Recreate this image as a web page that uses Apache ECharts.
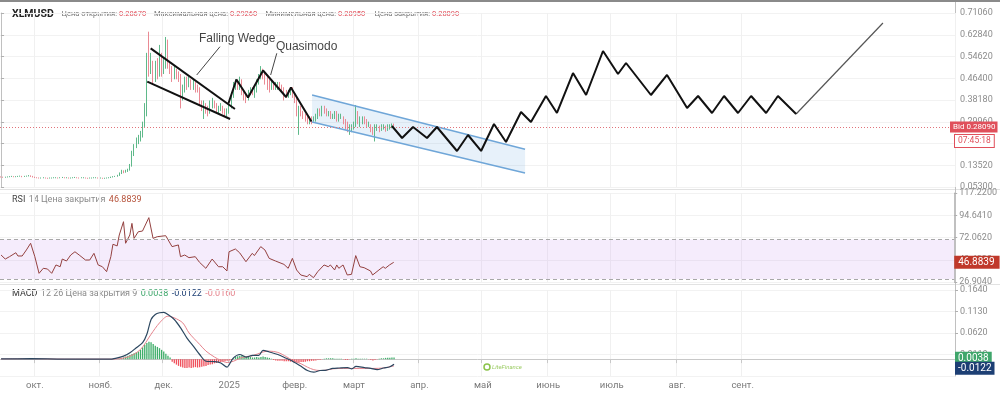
<!DOCTYPE html>
<html><head><meta charset="utf-8">
<script src="https://cdn.jsdelivr.net/npm/echarts/dist/echarts.min.js"></script>
<style>html,body{margin:0;padding:0;background:#fff}#c{width:1000px;height:394px}</style>
</head><body><div id="c"></div>
<script>
// ---------- DATA ----------
const startDate = '2024-09-15';          // index 0 of the daily categories
const dayCount = 452;
const lastLabelDate = '2025-09-01';
const monthNames = ['янв.','февр.','март','апр.','май','июнь','июль','авг.','сент.','окт.','нояб.','дек.'];
const symbol = 'XLMUSD';
const firstOpen = 0.092;
// daily closes Sep 15 2024 .. Mar 20 2025
const closes = [
 0.091,0.090,0.090,0.091,0.092,0.093,0.092,0.092,0.093,0.094,0.092,0.093,0.094,0.095,0.094,0.091,
 0.089,0.088,0.087,0.087,0.088,0.087,0.086,0.087,0.087,0.088,0.088,0.087,0.088,0.089,0.088,0.088,0.087,0.087,0.088,0.089,0.088,0.087,0.088,0.088,0.087,0.086,0.087,0.087,0.088,0.088,0.087,
 0.087,0.086,0.086,0.087,0.088,0.090,0.092,0.093,0.096,0.105,0.112,0.110,0.114,0.117,0.135,0.175,0.205,0.225,0.235,0.245,0.285,0.330,0.530,0.500,0.520,0.460,0.500,0.480,0.520,0.500,
 0.520,0.550,0.520,0.500,0.470,0.490,0.480,0.470,0.400,0.420,0.450,0.440,0.450,0.430,0.440,0.430,0.420,0.370,0.350,0.360,0.350,0.340,0.360,0.370,0.360,0.340,0.350,0.350,0.340,0.330,0.340,
 0.360,0.400,0.430,0.440,0.430,0.450,0.410,0.400,0.390,0.410,0.420,0.410,0.420,0.450,0.470,0.490,0.480,0.460,0.440,0.430,0.440,0.430,0.430,0.440,0.430,0.420,0.410,0.400,0.410,0.420,0.400,
 0.380,0.330,0.350,0.330,0.320,0.310,0.300,0.310,0.300,0.310,0.320,0.340,0.330,0.350,0.340,0.330,0.330,0.320,0.320,0.330,0.310,0.320,0.320,0.300,0.290,0.280,0.280,0.280,
 0.290,0.330,0.300,0.300,0.310,0.300,0.290,0.290,0.270,0.260,0.270,0.280,0.270,0.280,0.280,0.270,0.280,0.280,0.2867,0.2809];
const highs = [
 0.093,0.092,0.092,0.093,0.094,0.095,0.094,0.094,0.095,0.096,0.095,0.095,0.096,0.098,0.097,0.095,
 0.092,0.090,0.089,0.089,0.090,0.089,0.088,0.089,0.089,0.090,0.090,0.089,0.090,0.091,0.090,0.090,0.089,0.089,0.090,0.091,0.090,0.089,0.090,0.090,0.089,0.088,0.089,0.089,0.090,0.090,0.089,
 0.089,0.088,0.088,0.089,0.090,0.092,0.094,0.095,0.099,0.108,0.118,0.116,0.118,0.122,0.140,0.190,0.215,0.240,0.250,0.265,0.300,0.370,0.560,0.640,0.560,0.530,0.530,0.540,0.590,0.560,
 0.540,0.620,0.610,0.530,0.510,0.510,0.500,0.490,0.480,0.440,0.470,0.470,0.470,0.460,0.460,0.450,0.440,0.430,0.380,0.380,0.370,0.360,0.380,0.390,0.380,0.370,0.360,0.370,0.360,0.350,0.350,
 0.370,0.410,0.450,0.460,0.450,0.470,0.460,0.420,0.410,0.420,0.430,0.430,0.430,0.460,0.480,0.510,0.500,0.490,0.470,0.460,0.460,0.450,0.450,0.450,0.450,0.440,0.430,0.420,0.420,0.430,0.430,
 0.410,0.390,0.360,0.360,0.340,0.330,0.320,0.320,0.320,0.320,0.330,0.350,0.350,0.360,0.360,0.350,0.340,0.340,0.330,0.340,0.340,0.330,0.330,0.320,0.310,0.300,0.290,0.290,
 0.300,0.363,0.340,0.320,0.320,0.320,0.310,0.300,0.290,0.280,0.290,0.290,0.285,0.290,0.290,0.285,0.290,0.290,0.293,0.2926];
const lows = [
 0.089,0.088,0.088,0.089,0.090,0.091,0.090,0.090,0.091,0.092,0.090,0.091,0.092,0.093,0.091,0.089,
 0.087,0.086,0.085,0.085,0.086,0.085,0.084,0.085,0.085,0.086,0.086,0.085,0.086,0.087,0.086,0.086,0.085,0.085,0.086,0.087,0.086,0.085,0.086,0.086,0.085,0.084,0.085,0.085,0.086,0.086,0.085,
 0.085,0.084,0.084,0.085,0.086,0.087,0.089,0.091,0.092,0.095,0.102,0.105,0.107,0.110,0.115,0.130,0.170,0.200,0.215,0.225,0.240,0.280,0.320,0.470,0.480,0.440,0.450,0.460,0.470,0.470,
 0.480,0.500,0.500,0.480,0.450,0.460,0.460,0.450,0.350,0.380,0.410,0.420,0.430,0.420,0.420,0.410,0.410,0.360,0.340,0.310,0.330,0.320,0.330,0.350,0.350,0.330,0.330,0.340,0.330,0.320,0.320,
 0.330,0.350,0.390,0.420,0.420,0.420,0.400,0.380,0.370,0.380,0.400,0.400,0.390,0.410,0.440,0.460,0.460,0.440,0.420,0.410,0.420,0.420,0.420,0.420,0.420,0.410,0.380,0.390,0.390,0.400,0.390,
 0.370,0.320,0.250,0.320,0.310,0.300,0.290,0.290,0.290,0.300,0.300,0.310,0.320,0.320,0.330,0.320,0.320,0.310,0.310,0.310,0.300,0.300,0.310,0.290,0.270,0.260,0.250,0.260,
 0.270,0.280,0.290,0.280,0.290,0.290,0.280,0.280,0.260,0.250,0.225,0.265,0.260,0.265,0.270,0.262,0.265,0.270,0.275,0.2805];

// RSI 14 (day index, value)
const rsiDays = [0,2,4,7,8,10,12,14,16,18,20,22,24,26,28,29,31,33,35,37,40,42,44,46,48,50,52,53,55,56,58,59,61,62,63,65,67,70,72,74,78,81,84,85,87,89,92,94,97,100,103,105,107,108,111,113,116,119,120,123,125,127,130,134,136,138,140,142,145,146,148,150,153,155,156,158,159,160,162,164,166,168,170,172,175,176,179,181,182,184,186];
const rsiValues = [54.3,50.2,52.6,56.6,53.3,53.3,59.4,66.2,52.6,35.7,40.8,40.1,35.7,44.2,42.4,50.2,48.2,54.3,57.6,54.3,49.2,49.2,56.0,44.2,42.4,37.4,52.6,65.2,63.5,74.6,88.1,66.2,74.6,86.4,71.2,77.9,78.6,92.2,71.2,72.9,73.9,62.8,64.5,52.6,54.3,51.6,52.6,46.9,40.8,50.2,42.4,42.4,38.1,57.6,60.4,56.6,47.5,56.0,53.7,62.8,59.4,50.9,48.2,44.8,40.8,50.9,39.1,34.0,32.3,34.7,31.3,37.4,44.2,42.4,44.2,39.1,44.2,40.8,44.2,34.0,34.7,53.7,42.4,41.4,38.1,34.0,39.1,42.4,40.8,44.2,46.8839];
const rsiBand = [30, 70];

// MACD 12 26 9
const macdDays = [0,14,30,52,53,58,61,64,67,69,71,73,75,77,79,82,85,88,91,94,97,101,104,107,108,110,113,116,119,122,124,127,131,135,138,142,145,148,151,154,157,160,164,166,168,172,175,178,181,184,186];
const macdValues = [0.0005,0.001,0.0,0.0,0.0007,0.007,0.015,0.027,0.039,0.059,0.094,0.106,0.110,0.111,0.106,0.094,0.074,0.050,0.031,0.011,-0.005,-0.006,-0.009,-0.019,-0.013,0.003,0.011,0.005,0.009,0.009,0.021,0.017,0.011,0.002,-0.005,-0.017,-0.027,-0.031,-0.027,-0.026,-0.022,-0.021,-0.020,-0.023,-0.017,-0.020,-0.022,-0.025,-0.021,-0.018,-0.0122];
const signalDays = [0,14,30,52,60,66,71,75,79,82,86,89,94,97,101,104,107,110,113,116,119,124,127,131,135,138,142,145,148,151,154,157,162,167,172,176,181,186];
const signalValues = [0.0005,0.001,0.0,0.0,0.005,0.023,0.059,0.086,0.102,0.098,0.086,0.062,0.035,0.019,0.005,-0.003,-0.008,-0.005,0.002,0.006,0.008,0.017,0.019,0.016,0.006,-0.003,-0.011,-0.019,-0.025,-0.027,-0.026,-0.023,-0.022,-0.022,-0.022,-0.022,-0.021,-0.016];
const histStart = 56;
const histValues = [
 0.001,0.002,0.004,0.006,0.008,0.010,0.012,0.014,0.016,0.018,0.022,0.028,0.034,0.038,0.041,0.040,0.036,0.032,0.029,0.026,0.022,0.018,0.013,0.008,0.004,
 -0.006,-0.010,-0.013,-0.016,-0.018,-0.020,-0.021,-0.021,-0.020,-0.021,-0.020,-0.019,-0.020,-0.019,-0.018,-0.017,-0.016,-0.014,-0.013,-0.012,-0.010,-0.009,-0.008,-0.007,-0.006,-0.005,-0.004,-0.003,-0.002,
 0.002,0.005,0.007,0.008,0.009,0.008,0.007,0.006,0.005,0.004,0.004,0.005,0.004,0.005,0.006,0.005,0.004,0.003,0.001,
 -0.002,-0.003,-0.004,-0.004,-0.004,-0.005,-0.005,-0.005,-0.006,-0.007,-0.008,-0.008,-0.008,-0.007,-0.007,-0.006,-0.005,-0.005,-0.004,-0.004,-0.003,-0.002,-0.002,-0.001,
 0.001,0.002,0.002,0.002,0.002,0.001,0.001,0.001,0.001,
 -0.001,-0.002,-0.002,-0.001,
 0.001,0.001,0.002,0.001,0.001,0.001,0.001,0.001,
 -0.001,-0.002,-0.003,-0.002,-0.001,
 0.001,0.002,0.002,0.003,0.003,0.003,0.004,0.0038];

// drawings (x = day index from startDate, y = price)
const wedgeUpper = [[70.8,0.577],[110.7,0.348]];
const wedgeLower = [[69.2,0.451],[108.4,0.310]];
const zigzagPast = [[107.6,0.3686],[111.4,0.4593],[116.9,0.3913],[124.0,0.4933],[134.9,0.3931],[137.2,0.4290],[146.9,0.3005]];
const zigzagFuture = [[185.0,0.2835],[189.8,0.2382],[195.0,0.2797],[201.6,0.2382],[206.3,0.2797],[215.8,0.1891],[221.0,0.2495],[227.2,0.1891],[233.3,0.2911],[239.0,0.2231],[246.1,0.3365],[250.8,0.2987],[257.9,0.3969],[263.1,0.3327],[270.7,0.4838],[276.9,0.4007],[284.9,0.5670],[292.0,0.4801],[295.8,0.5216],[307.6,0.4007],[315.2,0.4763],[324.7,0.3516],[329.9,0.3969],[336.5,0.3327],[342.2,0.3969],[348.8,0.3327],[355.0,0.3969],[362.1,0.3327],[367.7,0.3969],[376.3,0.3289]];
const targetArrow = [[376.3,0.3289],[417.4,0.6728]];
const channelUpper = [[147.2,0.4007],[248.0,0.1954]];
const channelLower = [[147.2,0.2987],[248.0,0.1059]];
const annoText = ['Falling Wedge','Quasimodo'];
const annoPos = [[93.7,0.6123],[130.1,0.5821]];
const annoArrows = [[[103.6,0.5832],[92.6,0.4763]],[[130.5,0.5583],[127.6,0.4763]]];
const bidTime = '07:45:18';
const headerLabels = ['Цена открытия:', 'Максимальная цена:', 'Минимальная цена:', 'Цена закрытия:'];

// ---------- BUILD ----------
const cats = [];
{ const d0 = Date.parse(startDate + 'T00:00:00Z');
  for (let i = 0; i < dayCount; i++) cats.push(new Date(d0 + i * 864e5).toISOString().slice(0, 10)); }
const isMonth = (i, v) => v.slice(8) === '01' && v <= lastLabelDate;
const monthLabel = v => { const m = +v.slice(5, 7); return m === 1 ? v.slice(0, 4) : monthNames[m - 1]; };
const candle = closes.map((c, i) => [i === 0 ? firstOpen : closes[i - 1], c, lows[i], highs[i]]);
const last = candle[candle.length - 1];
const headerValues = [last[0], last[3], last[2], last[1]];
const rsiLast = rsiValues[rsiValues.length - 1];
const histLast = histValues[histValues.length - 1];
const macdLast = macdValues[macdValues.length - 1];
const sigLast = signalValues[signalValues.length - 1];
const pair = (a, b) => a.map((x, i) => [x, b[i]]);

const FONT = 'Roboto, Arial, sans-serif';
const AX = '#8c8c8c';
const NOLINE = {color: 'rgba(0,0,0,0)', width: 0};
const grids = [
  {left: 0, right: 45, top: 13, height: 174},
  {left: 0, right: 45, top: 193, height: 89},
  {left: 0, right: 45, top: 290, height: 86}
];
function catAxis(g, showLabel) {
  return {type: 'category', gridIndex: g, data: cats, boundaryGap: true,
    axisLine: {show: showLabel, lineStyle: {color: '#c8c8c8'}},
    axisTick: {show: showLabel, interval: isMonth, length: 4, lineStyle: {color: '#c8c8c8'}},
    axisLabel: {show: showLabel, interval: isMonth, formatter: monthLabel, color: '#7a7a7a', fontSize: 9.5, fontFamily: FONT, margin: 5},
    splitLine: {show: true, interval: isMonth, lineStyle: {color: '#f0f0f0'}}};
}
function valAxis(g, min, max, interval, dec, showMin) {
  return {type: 'value', gridIndex: g, position: 'right', min, max, interval,
    axisLine: {show: true, lineStyle: {color: '#c0c0c0'}},
    axisTick: {show: true, length: 3, lineStyle: {color: '#b0b0b0'}},
    axisLabel: {color: AX, fontSize: 9, fontFamily: FONT, margin: 5, showMinLabel: showMin, formatter: v => v.toFixed(dec)},
    splitLine: {show: true, lineStyle: {color: '#f2f2f2'}}};
}
const lineS = (name, data, color, width, extra) => Object.assign({
  type: 'line', name, data, xAxisIndex: 1, yAxisIndex: 0, symbol: 'none', silent: true,
  lineStyle: {color, width}, z: 5}, extra || {});
const tagLabel = (text, bg, extra) => Object.assign({show: true, position: 'end', distance: 0, formatter: text,
  backgroundColor: bg, color: '#fff', fontSize: 9, fontFamily: FONT, padding: [2, 3, 1, 3]}, extra || {});

const headerGraphics = [];
const valueX = [119, 230, 338, 432];
headerLabels.forEach((t, i) => {
  headerGraphics.push({type: 'text', x: valueX[i] - 2, y: 14, style: {text: t, fill: '#707070', fontSize: 7.5, fontFamily: FONT, align: 'right', verticalAlign: 'middle'}});
  headerGraphics.push({type: 'text', x: valueX[i], y: 14, style: {text: headerValues[i].toFixed(5), fill: '#e0505b', fontSize: 7.5, fontFamily: FONT, align: 'left', verticalAlign: 'middle'}});
});

const option = {
  animation: false,
  grid: grids,
  xAxis: [
    catAxis(0, false),
    {type: 'value', gridIndex: 0, min: -0.5, max: dayCount - 0.5, show: false},
    catAxis(1, false),
    catAxis(2, true)
  ],
  yAxis: [
    valAxis(0, 0.053, 0.7106, 0.0822, 5, true),
    valAxis(1, 26.904, 117.22, 22.579, 4, true),
    valAxis(2, -0.040, 0.164, 0.051, 4, false)
  ],
  series: [
    {type: 'custom', name: 'channel-fill', xAxisIndex: 1, yAxisIndex: 0, silent: true, z: 1,
      data: [channelUpper[0]],
      renderItem: (p, api) => ({type: 'polygon',
        shape: {points: channelUpper.map(q => api.coord(q)).concat(channelLower.slice().reverse().map(q => api.coord(q)))},
        style: {fill: 'rgba(120,175,230,0.18)'}})},
    {type: 'candlestick', name: symbol, xAxisIndex: 0, yAxisIndex: 0, data: candle, z: 2,
      barMaxWidth: 2,
      itemStyle: {color: '#5fb98a', color0: '#ea8a94', borderColor: '#5fb98a', borderColor0: '#ea8a94', borderWidth: 1},
      markLine: {silent: true, symbol: 'none',
        data: [
          {yAxis: last[1], lineStyle: {color: '#e0737a', type: [1, 2], width: 1},
            label: tagLabel('Bid ' + last[1].toFixed(5), '#e0505b', {offset: [-5, 0], fontSize: 8, padding: [2, 2, 1, 3]})},
          {yAxis: last[1], lineStyle: NOLINE,
            label: tagLabel(bidTime, '#fff', {offset: [0, 14], color: '#e0505b', borderColor: '#e0505b', borderWidth: 1, fontSize: 8.5, padding: [2, 3, 1, 3]})}
        ]}},
    lineS('channel-up', channelUpper, '#6fa6d8', 1.5, {z: 3}),
    lineS('channel-low', channelLower, '#6fa6d8', 1.5, {z: 3}),
    lineS('wedge-up', wedgeUpper, '#111', 2),
    lineS('wedge-low', wedgeLower, '#111', 2),
    lineS('zigzag-past', zigzagPast, '#111', 2),
    lineS('zigzag-future', zigzagFuture, '#111', 2, {
      markLine: {silent: true, symbol: ['none', 'arrow'], symbolSize: [0, 7], label: {show: false},
        lineStyle: {color: '#555', width: 1.2, type: 'solid'},
        data: [[{coord: targetArrow[0]}, {coord: targetArrow[1]}]].concat(
          annoArrows.map(a => [{coord: a[0], lineStyle: {color: '#444', width: 1}}, {coord: a[1]}]))}}),
    {type: 'scatter', name: 'notes', xAxisIndex: 1, yAxisIndex: 0, symbolSize: 0, silent: true, z: 6,
      data: annoPos.map((p, i) => ({value: p, label: {formatter: annoText[i]}})),
      label: {show: true, position: 'right', distance: 0, color: '#111', fontSize: 12, fontFamily: 'Liberation Sans, Arial, sans-serif'}},
    // RSI
    {type: 'line', name: 'RSI', xAxisIndex: 2, yAxisIndex: 1, data: pair(rsiDays, rsiValues), symbol: 'none', silent: true,
      lineStyle: {color: '#93403f', width: 1}, z: 4,
      markArea: {silent: true, itemStyle: {color: 'rgba(205,160,240,0.2)'}, data: [[{yAxis: rsiBand[0]}, {yAxis: rsiBand[1]}]]},
      markLine: {silent: true, symbol: 'none',
        data: [
          {yAxis: rsiBand[0], lineStyle: {color: '#a8a8a8', type: [4, 3], width: 1}, label: {show: false}},
          {yAxis: rsiBand[1], lineStyle: {color: '#a8a8a8', type: [4, 3], width: 1}, label: {show: false}},
          {yAxis: rsiLast, lineStyle: NOLINE, label: tagLabel(rsiLast.toFixed(4), '#c0392b', {fontSize: 10, padding: [2, 5, 1, 4]})}
        ]}},
    // MACD
    {type: 'bar', name: 'hist', xAxisIndex: 3, yAxisIndex: 2, silent: true, barWidth: 1.3,
      data: histValues.map((v, i) => ({value: [histStart + i, v], itemStyle: {color: v >= 0 ? '#3fae6a' : '#f0505c'}})), z: 2},
    {type: 'line', name: 'MACD', xAxisIndex: 3, yAxisIndex: 2, data: pair(macdDays, macdValues), symbol: 'none', silent: true,
      smooth: 0.3, lineStyle: {color: '#2c4760', width: 1.2}, z: 4,
      markLine: {silent: true, symbol: 'none',
        data: [
          {yAxis: histLast, lineStyle: NOLINE, label: tagLabel(histLast.toFixed(4), '#3fa66b', {offset: [0, -1], fontSize: 10})},
          {yAxis: macdLast, lineStyle: NOLINE, label: tagLabel(macdLast.toFixed(4), '#1d3f74', {offset: [0, 5], fontSize: 10})}
        ]}},
    {type: 'line', name: 'Signal', xAxisIndex: 3, yAxisIndex: 2, data: pair(signalDays, signalValues), symbol: 'none', silent: true,
      smooth: 0.3, lineStyle: {color: '#e5838c', width: 1}, z: 3}
  ],
  graphic: [
    {type: 'rect', shape: {x: 0, y: 0, width: 1000, height: 2}, style: {fill: '#8a8a8a'}, z: 100},
    {type: 'line', shape: {x1: 0, y1: 189.5, x2: 1000, y2: 189.5}, style: {stroke: '#e2e2e2', lineWidth: 1}},
    {type: 'line', shape: {x1: 0, y1: 284.5, x2: 1000, y2: 284.5}, style: {stroke: '#e2e2e2', lineWidth: 1}},
    {type: 'line', shape: {x1: 955.5, y1: 2, x2: 955.5, y2: 376}, style: {stroke: '#c0c0c0', lineWidth: 1}},
    {type: 'text', x: 12, y: 14, style: {text: symbol, fill: '#222', fontSize: 10.5, fontWeight: 'bold', fontFamily: FONT, verticalAlign: 'middle'}},
    ...headerGraphics,
    {type: 'text', x: 12, y: 200, style: {text: '{d|RSI} {l|14 Цена закрытия} {v|' + rsiLast.toFixed(4) + '}', verticalAlign: 'middle',
      rich: {d: {fill: '#444', fontSize: 9, fontFamily: FONT}, l: {fill: '#8a8a8a', fontSize: 9, fontFamily: FONT}, v: {fill: '#b5523a', fontSize: 9, fontFamily: FONT}}}},
    {type: 'text', x: 12, y: 294, style: {text: '{d|MACD} {l|12 26 Цена закрытия 9} {g|' + histLast.toFixed(4) + '} {n|' + macdLast.toFixed(4) + '} {r|' + sigLast.toFixed(4) + '}', verticalAlign: 'middle',
      rich: {d: {fill: '#333', fontSize: 9, fontFamily: FONT}, l: {fill: '#8a8a8a', fontSize: 9, fontFamily: FONT},
        g: {fill: '#3fa66b', fontSize: 9, fontFamily: FONT}, n: {fill: '#1d3f74', fontSize: 9, fontFamily: FONT}, r: {fill: '#e5838c', fontSize: 9, fontFamily: FONT}}}},
    {type: 'circle', shape: {cx: 487, cy: 367, r: 3}, style: {fill: 'none', stroke: '#8bc34a', lineWidth: 1.5}},
    {type: 'text', x: 492, y: 367, style: {text: 'LiteFinance', fill: '#9ccc65', fontSize: 6, fontStyle: 'italic', fontFamily: FONT, verticalAlign: 'middle'}}
  ]
};
const chart = echarts.init(document.getElementById('c'), null, {renderer: 'canvas'});
chart.setOption(option);
</script>
</body></html>
